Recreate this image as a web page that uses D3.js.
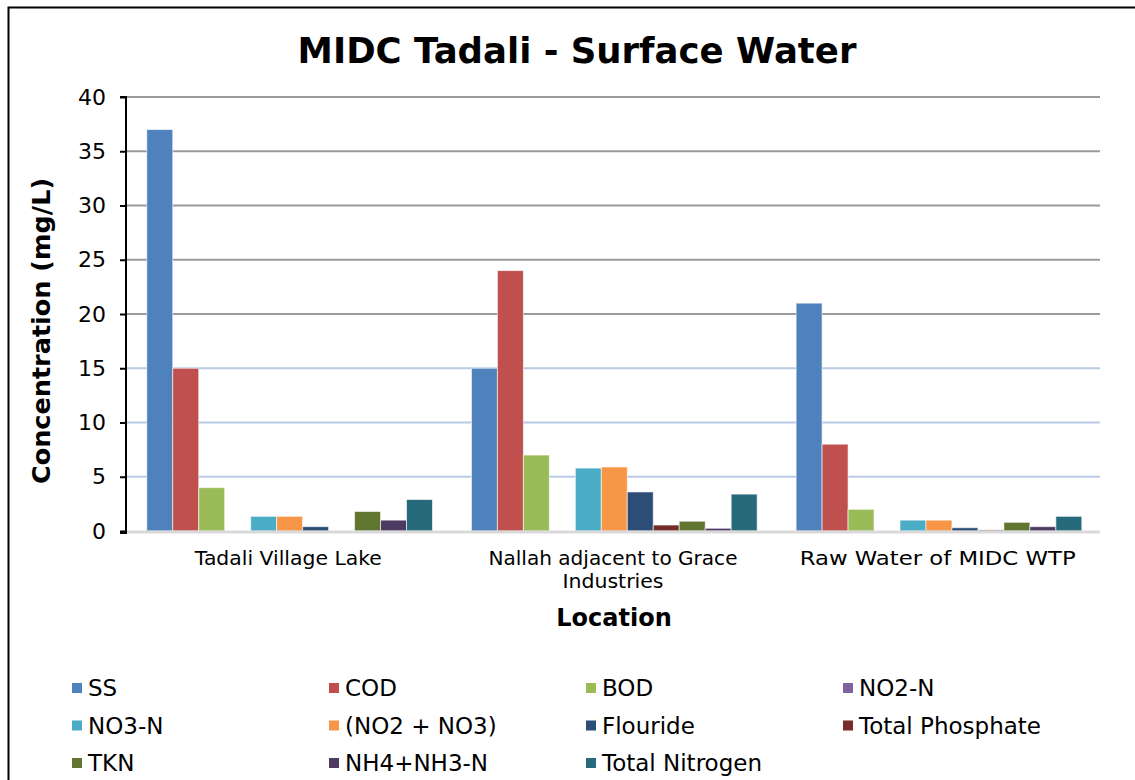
<!DOCTYPE html>
<html>
<head>
<meta charset="utf-8">
<script src="https://cdn.jsdelivr.net/npm/d3@7"></script>
<style>
  html, body { margin: 0; padding: 0; background: #fff; }
  svg { display: block; }
  text { font-family: "DejaVu Sans", Verdana, sans-serif; fill: #000; }
</style>
</head>
<body>
<svg id="chart" width="1135" height="780"></svg>
<script>
// Sampling locations (x categories), split into display lines
const locations = [
  ["Tadali Village Lake"],
  ["Nallah adjacent to Grace", "Industries"],
  ["Raw Water of MIDC WTP"]
];
const locationKeys = ["Tadali Village Lake", "Nallah adjacent to Grace Industries", "Raw Water of MIDC WTP"];

// Parameters (series)
const parameters = ["SS", "COD", "BOD", "NO2-N", "NO3-N", "(NO2 + NO3)", "Flouride",
                    "Total Phosphate", "TKN", "NH4+NH3-N", "Total Nitrogen"];
const colors = ["#4F81BD", "#C0504D", "#9BBB59", "#8064A2", "#4BACC6", "#F79646",
                "#2C4D75", "#772C2A", "#5F7530", "#4D3B62", "#276A7C"];

// Concentrations (mg/L), one array per parameter, ordered by location
const SS        = [37, 15, 21];
const COD       = [15, 24, 8];
const BOD       = [4, 7, 2];
const NO2N      = [0, 0, 0];
const NO3N      = [1.35, 5.8, 1.0];
const NO2NO3    = [1.35, 5.9, 1.0];
const Flouride  = [0.4, 3.6, 0.3];
const TotalP    = [0, 0.55, 0.1];
const TKN       = [1.8, 0.9, 0.8];
const NH4NH3N   = [1.0, 0.25, 0.4];
const TotalN    = [2.9, 3.4, 1.35];
const seriesValues = [SS, COD, BOD, NO2N, NO3N, NO2NO3, Flouride, TotalP, TKN, NH4NH3N, TotalN];

const yTicks = [0, 5, 10, 15, 20, 25, 30, 35, 40];

// Rendered widths of the category label lines (wide sans face)
const labelWidths = [[187], [249, 101], [276]];

const svg = d3.select("#chart");

// Outer chart frame
svg.append("rect")
  .attr("x", 8.5).attr("y", 7.5)
  .attr("width", 1140).attr("height", 800)
  .attr("fill", "none").attr("stroke", "#000").attr("stroke-width", 2);

const plot = { left: 126, right: 1100, top: 97, bottom: 531 };

const x0 = d3.scaleBand().domain(locationKeys).range([plot.left, plot.right]).paddingInner(0).paddingOuter(0);
// Gap between groups = 1.5 bar widths (split on each side)
const nBars = parameters.length;
const barW = x0.bandwidth() / (nBars + 1.5);
const x1 = d3.scaleBand().domain(parameters).range([barW * 0.8, barW * 0.8 + barW * nBars]).padding(0);
const y = d3.scaleLinear().domain([0, 40]).range([plot.bottom, plot.top]);

// Gridlines
svg.append("g").selectAll("line")
  .data(yTicks.filter(t => t > 0))
  .join("line")
  .attr("x1", plot.left).attr("x2", plot.right)
  .attr("y1", d => y(d)).attr("y2", d => y(d))
  .attr("stroke", d => d >= 20 ? "#9a9a9a" : "#b9cae4")
  .attr("stroke-width", 2);

// Bars
const groups = svg.append("g").selectAll("g")
  .data(locationKeys)
  .join("g")
  .attr("transform", d => `translate(${x0(d)},0)`);

groups.selectAll("rect")
  .data((loc, i) => parameters.map((p, j) => ({ p, j, v: seriesValues[j][i] })))
  .join("rect")
  .attr("x", d => x1(d.p))
  .attr("width", x1.bandwidth())
  .attr("y", d => y(d.v))
  .attr("height", d => y(0) - y(d.v))
  .attr("fill", d => colors[d.j])
  .attr("stroke", "rgba(255,255,255,0.6)")
  .attr("stroke-width", 1);

// Baseline
svg.append("line")
  .attr("x1", plot.left).attr("x2", plot.right)
  .attr("y1", y(0) + 1).attr("y2", y(0) + 1)
  .attr("stroke", "#d9d9d9").attr("stroke-width", 3);

// Y axis
const yAxis = d3.axisLeft(y).tickValues(yTicks).tickSize(6).tickPadding(14);
const yg = svg.append("g")
  .attr("transform", `translate(${plot.left},0)`)
  .call(yAxis);
yg.select(".domain").attr("stroke", "#000").attr("stroke-width", 2)
  .attr("d", `M-6,${plot.top}H0V${plot.bottom + 2}H-6`);
yg.selectAll(".tick line").attr("stroke", "#000").attr("stroke-width", 2);
yg.selectAll(".tick text")
  .style("font-family", "'DejaVu Sans', Verdana, sans-serif")
  .style("font-size", "22px").attr("fill", "#000");

// Category labels
const catG = svg.append("g");
locationKeys.forEach((k, i) => {
  const cx = x0(k) + x0.bandwidth() / 2;
  locations[i].forEach((line, li) => {
    catG.append("text")
      .attr("x", cx)
      .attr("y", 565 + li * 23)
      .attr("text-anchor", "middle")
      .attr("textLength", labelWidths[i][li])
      .attr("lengthAdjust", "spacingAndGlyphs")
      .style("font-size", "20px")
      .text(line);
  });
});

// Titles
svg.append("text")
  .attr("x", 577).attr("y", 63)
  .attr("text-anchor", "middle")
  .style("font-size", "35.5px").style("font-weight", "bold")
  .text("MIDC Tadali - Surface Water");

svg.append("text")
  .attr("x", 614).attr("y", 626)
  .attr("text-anchor", "middle")
  .style("font-size", "24px").style("font-weight", "bold")
  .text("Location");

svg.append("text")
  .attr("transform", "translate(50,331) rotate(-90)")
  .attr("text-anchor", "middle")
  .style("font-size", "25.5px").style("font-weight", "bold")
  .text("Concentration (mg/L)");

// Legend
const legend = svg.append("g");
parameters.forEach((p, i) => {
  const col = i % 4, row = Math.floor(i / 4);
  const lx = 72 + col * 257, ly = 688 + row * 37.5;
  legend.append("rect")
    .attr("x", lx).attr("y", ly - 5)
    .attr("width", 10).attr("height", 10)
    .attr("fill", colors[i]);
  legend.append("text")
    .attr("x", lx + 16).attr("y", ly + 8)
    .style("font-size", "23px")
    .text(p);
});
</script>
</body>
</html>
